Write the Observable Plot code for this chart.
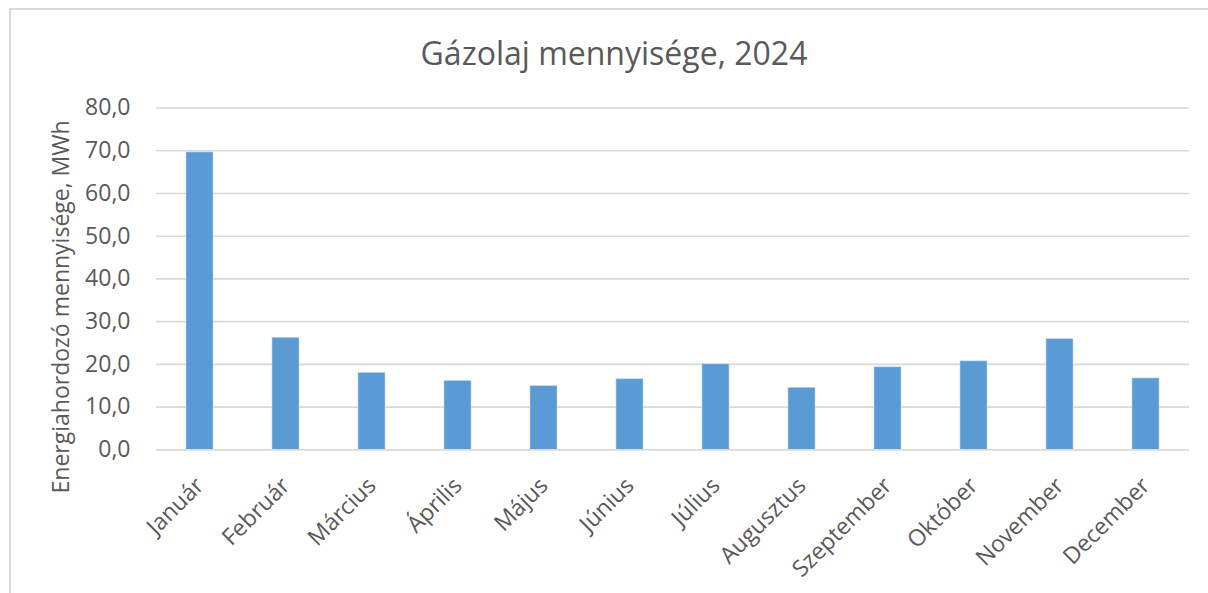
<!DOCTYPE html>
<html>
<head>
<meta charset="utf-8">
<script src="https://cdn.jsdelivr.net/npm/d3@7"></script>
<script src="https://cdn.jsdelivr.net/npm/@observablehq/plot@0.6"></script>
<style>
  html, body { margin: 0; padding: 0; background: #fff; }
  #wrap { position: relative; width: 1208px; height: 593px; overflow: hidden; font-family: "Open Sans", sans-serif; }
  #frame { position: absolute; left: 9px; top: 8px; width: 1300px; height: 700px; border-top: 2px solid #d9d9d9; border-left: 2px solid #d9d9d9; }
  #title { position: relative; height: 90px; line-height: 106px; text-align: center; font-size: 32px; color: #595959; padding-left: 20px; }
  #chart { position: relative; }
</style>
</head>
<body>
<div id="wrap">
  <div id="frame"></div>
  <div id="title">Gázolaj mennyisége, 2024</div>
  <div id="chart"></div>
</div>
<script>
const months = ["Január","Február","Március","Április","Május","Június","Július","Augusztus","Szeptember","Október","November","December"];
const values = [69.6, 26.2, 18.0, 16.1, 14.9, 16.5, 20.0, 14.5, 19.3, 20.7, 25.9, 16.7];
const yTicks = [0, 10, 20, 30, 40, 50, 60, 70, 80];
const yTitle = "Energiahordozó mennyisége, MWh";

const data = months.map((m, i) => ({month: m, value: values[i]}));
const fmt = d => d.toFixed(1).replace(".", ",");

const plot = Plot.plot({
  width: 1208,
  height: 503,
  marginTop: 17.5,
  marginBottom: 143.7,
  marginLeft: 156,
  marginRight: 19,
  style: {fontFamily: "'Open Sans', sans-serif", fontSize: "23px", color: "#595959", background: "transparent"},
  x: {domain: months, paddingInner: 0.69, paddingOuter: 0.345, align: 0.5},
  y: {domain: [0, 80]},
  marks: [
    Plot.gridY(yTicks, {stroke: "#d9d9d9", strokeWidth: 1.6, strokeOpacity: 1}),
    Plot.barY(data, {x: "month", y: "value", fill: "#5b9bd5", stroke: "#bdd7ee", strokeWidth: 0.6}),
    Plot.axisY({ticks: yTicks, tickFormat: fmt, tickSize: 0, tickPadding: 26, label: yTitle, labelAnchor: "center", labelArrow: "none", labelOffset: 104, fill: "#595959", fontSize: 23}),
    Plot.axisX({tickSize: 0, tickRotate: -45, tickPadding: 32, label: null, fill: "#595959", fontSize: 23}),
    Plot.ruleY([0], {stroke: "#d9d9d9", strokeWidth: 1.6})
  ]
});
document.getElementById("chart").appendChild(plot);

// shift the y-axis title down slightly to match the reference placement
d3.select(plot).selectAll("g[aria-label='y-axis label'] text").each(function() {
  d3.select(this).attr("dx", "-28");
});
</script>
</body>
</html>
